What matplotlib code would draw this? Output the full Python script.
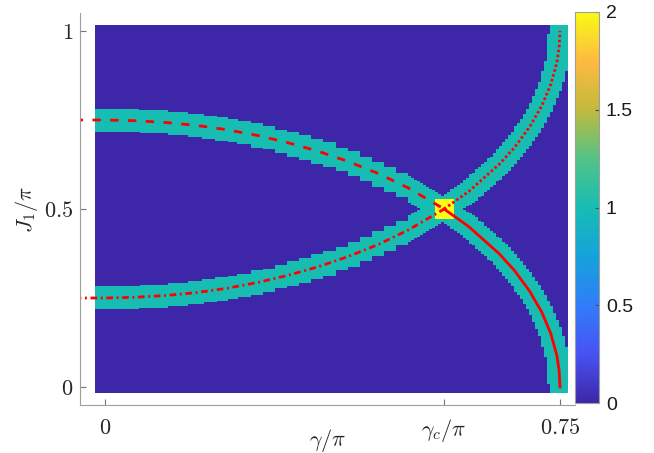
import numpy as np
import matplotlib
matplotlib.use('Agg')
import matplotlib.pyplot as plt
from matplotlib.colors import LinearSegmentedColormap

plt.rcParams['mathtext.fontset'] = 'cm'

# crossing point of the two gap-closing lines
gamma_c = 0.559
j_c = 0.5

# branch through J1 = 0.75 (dashed) and its continuation below J1 = 0.5 (solid)
gamma_left = [-0.05, 0.0, 0.05, 0.10, 0.15, 0.20, 0.25, 0.30, 0.35, 0.40, 0.45, 0.50, 0.559]
j_dashed = [0.750, 0.750, 0.748, 0.743, 0.735, 0.723, 0.707, 0.687, 0.663, 0.634, 0.600, 0.559, 0.500]
# branch through J1 = 0.25 (dash-dot) and its continuation above J1 = 0.5 (dotted)
j_dashdot = [0.250, 0.250, 0.252, 0.257, 0.265, 0.277, 0.293, 0.313, 0.337, 0.366, 0.400, 0.441, 0.500]

gamma_right = [0.559, 0.60, 0.65, 0.675, 0.70, 0.72, 0.735, 0.745, 0.7485, 0.75]
j_solid = [0.500, 0.450, 0.374, 0.327, 0.269, 0.210, 0.149, 0.087, 0.047, 0.0]
j_dotted = [0.500, 0.550, 0.626, 0.673, 0.731, 0.790, 0.851, 0.913, 0.953, 1.0]

cbar_ticks = [0, 0.5, 1, 1.5, 2]
cbar_labels = ['0', '0.5', '1', '1.5', '2']

# parula-like colormap
parula = LinearSegmentedColormap.from_list('parula', [
    (0.000, (0.2422, 0.1504, 0.6603)),
    (0.125, (0.2810, 0.3228, 0.9579)),
    (0.250, (0.1900, 0.4900, 0.9800)),
    (0.375, (0.0800, 0.6400, 0.8600)),
    (0.500, (0.0900, 0.7400, 0.7000)),
    (0.625, (0.3200, 0.7650, 0.5300)),
    (0.750, (0.7600, 0.7300, 0.2400)),
    (0.875, (0.9900, 0.7300, 0.2500)),
    (1.000, (0.9769, 0.9839, 0.0805)),
])

W, H = 654, 453
fig = plt.figure(figsize=(W / 100, H / 100), dpi=100)
ax_px = [80, 13, 575, 405]  # left, top, right, bottom in pixels
ax = fig.add_axes([ax_px[0] / W, 1 - ax_px[3] / H,
                   (ax_px[2] - ax_px[0]) / W, (ax_px[3] - ax_px[1]) / H])
xlim = (-0.0412, 0.7747)
ylim = (-0.0506, 1.0506)
ax.set_xlim(xlim)
ax.set_ylim(ylim)

# pixels per data unit, used to build bands of constant on-screen width
sx = (ax_px[2] - ax_px[0]) / (xlim[1] - xlim[0])
sy = (ax_px[3] - ax_px[1]) / (ylim[1] - ylim[0])
half_width = 11.5
box_half = 10.0

x_edges = np.concatenate([np.linspace(-0.0165, 0.22, 80),
                          np.linspace(0.22, 0.50, 15)[1:],
                          np.linspace(0.50, 0.763, 54)[1:]])
y_edges = np.linspace(-0.017, 1.017, 208)
xc = 0.5 * (x_edges[:-1] + x_edges[1:])
yc = 0.5 * (y_edges[:-1] + y_edges[1:])
XC, YC = np.meshgrid(xc, yc)


def pixel_distance(xs, ys):
    px, py = XC * sx, YC * sy
    qx, qy = np.asarray(xs) * sx, np.asarray(ys) * sy
    d = np.full(XC.shape, np.inf)
    for i in range(len(qx) - 1):
        dx, dy = qx[i + 1] - qx[i], qy[i + 1] - qy[i]
        t = ((px - qx[i]) * dx + (py - qy[i]) * dy) / (dx * dx + dy * dy)
        t = np.clip(t, 0, 1)
        d = np.minimum(d, np.hypot(px - qx[i] - t * dx, py - qy[i] - t * dy))
    return d


d_a = pixel_distance(gamma_left + gamma_right[1:], j_dashed + j_solid[1:])
d_b = pixel_distance(gamma_left + gamma_right[1:], j_dashdot + j_dotted[1:])
field = ((d_a < half_width) | (d_b < half_width)).astype(float)
near = (np.abs(XC - gamma_c) * sx <= box_half) & (np.abs(YC - j_c) * sy <= box_half)
field[near] = 2

mesh = ax.pcolormesh(x_edges, y_edges, field, cmap=parula, vmin=0, vmax=2,
                     shading='flat', antialiased=False, rasterized=True)

ax.plot(gamma_left, j_dashed, color='red', lw=2, ls=(0, (3.0, 3.4)))
ax.plot(gamma_left, j_dashdot, color='red', lw=2, ls=(0, (2.4, 1.3, 0.7, 1.3)))
ax.plot(gamma_right, j_solid, color='red', lw=2, ls='-')
ax.plot(gamma_right, j_dotted, color='red', lw=2, ls=(0, (0.9, 0.9)))

for s in ['top', 'right']:
    ax.spines[s].set_visible(False)
for s in ['left', 'bottom']:
    ax.spines[s].set_color('0.62')
    ax.spines[s].set_linewidth(0.8)

ax.set_xticks([0, gamma_c, 0.75])
ax.set_xticklabels(['$0$', r'$\gamma_c/\pi$', '$0.75$'])
ax.set_yticks([0, 0.5, 1])
ax.set_yticklabels(['$0$', '$0.5$', '$1$'])
ax.tick_params(direction='in', length=4, width=0.8, color='0.45',
               labelsize=16, labelcolor='0.15')
ax.tick_params(axis='x', pad=9)
ax.tick_params(axis='y', pad=5)

ax.set_xlabel(r'$\gamma/\pi$', fontsize=16, color='0.15')
ax.xaxis.set_label_coords(0.5, -0.055)
ax.set_ylabel(r'$J_1/\pi$', fontsize=16, color='0.15')
ax.yaxis.set_label_coords(-0.08, 0.5)

cax = fig.add_axes([575 / W, 1 - 403 / H, 24 / W, 391 / H])
cb = fig.colorbar(mesh, cax=cax, ticks=cbar_ticks)
cb.set_ticklabels(cbar_labels)
cb.outline.set_edgecolor('0.62')
cb.outline.set_linewidth(0.8)
cb.ax.tick_params(direction='in', length=3, width=0.8, color='0.3',
                  labelsize=14, pad=5, labelcolor='0.1')
for lab in cb.ax.get_yticklabels():
    lab.set_family('Liberation Sans')

fig.savefig('out.png', dpi=100)
